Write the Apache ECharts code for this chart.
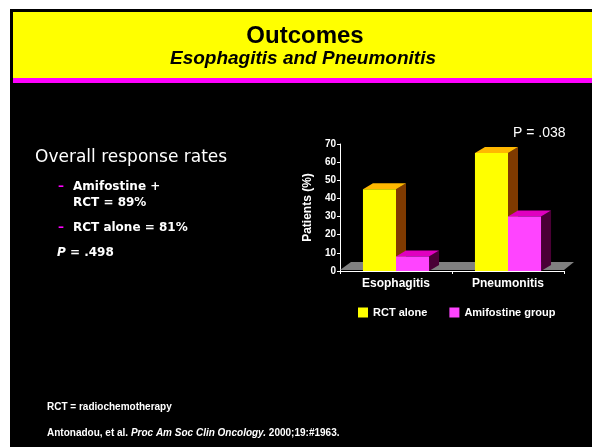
<!DOCTYPE html>
<html><head><meta charset="utf-8">
<script src="https://cdn.jsdelivr.net/npm/echarts@6/dist/echarts.min.js"></script>
<style>html,body{margin:0;padding:0;background:#fff;}#c{width:592px;height:447px;}</style>
</head><body><div id="c"></div>
<script>
const categories = ['Esophagitis', 'Pneumonitis'];
const rctAlone = [45, 65];
const amifostine = [8, 30];
const yTicks = [0, 10, 20, 30, 40, 50, 60, 70];

const BAR_RATIO = 0.295, DX = 10, DY = -6;
function bar3d(side, front, topc, sidec) {
  return function (params, api) {
    const idx = api.value(0), v = api.value(1);
    const top = api.coord([idx, v]);
    const base = api.coord([idx, 0]);
    const band = api.size([1, 0])[0];
    const w = band * BAR_RATIO;
    const x0 = side < 0 ? top[0] - w : top[0];
    const x1 = x0 + w;
    const yT = top[1], yB = base[1];
    return {
      type: 'group', children: [
        { type: 'polygon', shape: { points: [[x1, yB], [x1 + DX, yB + DY], [x1 + DX, yT + DY], [x1, yT]] }, style: { fill: sidec } },
        { type: 'polygon', shape: { points: [[x0, yT], [x0 + DX, yT + DY], [x1 + DX, yT + DY], [x1, yT]] }, style: { fill: topc } },
        { type: 'rect', shape: { x: x0, y: yT, width: w, height: yB - yT }, style: { fill: front } }
      ]
    };
  };
}
function floorItem(params, api) {
  const a = api.coord([0, 0]);
  const band = api.size([1, 0])[0];
  const xl = a[0] - band / 2, xr = a[0] + band * 1.5, y = a[1] - 1;
  return { type: 'polygon', shape: { points: [[xl, y], [xl + DX + 1, y - 8], [xr + DX, y - 8], [xr, y]] }, style: { fill: '#808080' } };
}

const chart = echarts.init(document.getElementById('c'));
const white = '#ffffff';
chart.setOption({
  backgroundColor: '#000000',
  animation: false,
  grid: { left: 340, right: 28, top: 144, bottom: 176 },
  legend: {
    left: 353, top: 302, itemWidth: 10, itemHeight: 10, itemGap: 22, icon: 'rect',
    data: ['RCT alone', 'Amifostine group'],
    textStyle: { color: white, fontFamily: 'Liberation Sans', fontWeight: 'bold', fontSize: 11 }
  },
  xAxis: {
    type: 'category', data: categories,
    axisLine: { lineStyle: { color: white, width: 1 } },
    axisTick: { show: true, inside: false, length: 3, lineStyle: { color: white } },
    axisLabel: { color: white, fontFamily: 'Liberation Sans', fontWeight: 'bold', fontSize: 12, margin: 7 }
  },
  yAxis: {
    type: 'value', min: 0, max: 70, interval: 10,
    name: 'Patients (%)', nameLocation: 'middle', nameGap: 26,
    nameTextStyle: { color: white, fontFamily: 'Liberation Sans', fontWeight: 'bold', fontSize: 12 },
    axisLine: { show: true, lineStyle: { color: white } },
    axisTick: { show: true, length: 3, lineStyle: { color: white } },
    splitLine: { show: false },
    axisLabel: { color: white, fontFamily: 'Liberation Sans', fontWeight: 'bold', fontSize: 10, margin: 4,
      formatter: v => yTicks.includes(v) ? String(v) : '' }
  },
  series: [
    { type: 'custom', name: 'floor', renderItem: floorItem, data: [[0, 0]], silent: true, z: 1 },
    { type: 'custom', name: 'RCT alone', itemStyle: { color: '#ffff00' },
      renderItem: bar3d(-1, '#ffff00', '#ffb800', '#7f3a00'),
      data: rctAlone.map((v, i) => [i, v]), z: 2 },
    { type: 'custom', name: 'Amifostine group', itemStyle: { color: '#ff44ff' },
      renderItem: bar3d(1, '#ff44ff', '#e000c0', '#4a0036'),
      data: amifostine.map((v, i) => [i, v]), z: 3 }
  ],
  graphic: [
    { type: 'rect', left: 0, top: 0, shape: { width: 592, height: 9 }, style: { fill: '#ffffff' }, z: 10 },
    { type: 'rect', left: 0, top: 0, shape: { width: 10, height: 447 }, style: { fill: '#ffffff' }, z: 10 },
    { type: 'rect', left: 13, top: 12, shape: { width: 579, height: 66 }, style: { fill: '#ffff00' }, z: 10 },
    { type: 'rect', left: 13, top: 78, shape: { width: 579, height: 5 }, style: { fill: '#ff00ff' }, z: 10 },
    { type: 'text', x: 305, y: 36, z: 11, style: { text: 'Outcomes', fill: '#000', font: 'bold 24px "Liberation Sans"', textAlign: 'center', textVerticalAlign: 'middle' } },
    { type: 'text', x: 303, y: 59, z: 11, style: { text: 'Esophagitis and Pneumonitis', fill: '#000', font: 'italic bold 19px "Liberation Sans"', textAlign: 'center', textVerticalAlign: 'middle' } },
    { type: 'text', x: 35, y: 158, z: 11, style: { text: 'Overall response rates', fill: white, font: '17px "DejaVu Sans"', textVerticalAlign: 'middle' } },
    { type: 'text', x: 58, y: 187, z: 11, style: { text: '–', fill: '#ff00ff', font: 'bold 12px "DejaVu Sans"', textVerticalAlign: 'middle' } },
    { type: 'text', x: 73, y: 187, z: 11, style: { text: 'Amifostine +', fill: white, font: 'bold 12px "DejaVu Sans"', textVerticalAlign: 'middle' } },
    { type: 'text', x: 73, y: 203, z: 11, style: { text: 'RCT = 89%', fill: white, font: 'bold 12px "DejaVu Sans"', textVerticalAlign: 'middle' } },
    { type: 'text', x: 58, y: 228, z: 11, style: { text: '–', fill: '#ff00ff', font: 'bold 12px "DejaVu Sans"', textVerticalAlign: 'middle' } },
    { type: 'text', x: 73, y: 228, z: 11, style: { text: 'RCT alone = 81%', fill: white, font: 'bold 12px "DejaVu Sans"', textVerticalAlign: 'middle' } },
    { type: 'text', x: 57, y: 253, z: 11, style: { text: '{i|P} = .498', rich: { i: { font: 'italic bold 12px "DejaVu Sans"', fill: white } }, fill: white, font: 'bold 12px "DejaVu Sans"', textVerticalAlign: 'middle' } },
    { type: 'text', x: 513, y: 133, z: 11, style: { text: 'P = .038', fill: white, font: '14px "Liberation Sans"', textVerticalAlign: 'middle' } },
    { type: 'text', x: 47, y: 407, z: 11, style: { text: 'RCT = radiochemotherapy', fill: white, font: 'bold 10px "Liberation Sans"', textVerticalAlign: 'middle' } },
    { type: 'text', x: 47, y: 433, z: 11, style: { text: 'Antonadou, et al. {i|Proc Am Soc Clin Oncology.} 2000;19:#1963.', rich: { i: { font: 'italic bold 10px "Liberation Sans"', fill: white } }, fill: white, font: 'bold 10px "Liberation Sans"', textVerticalAlign: 'middle' } }
  ]
});
</script></body></html>
